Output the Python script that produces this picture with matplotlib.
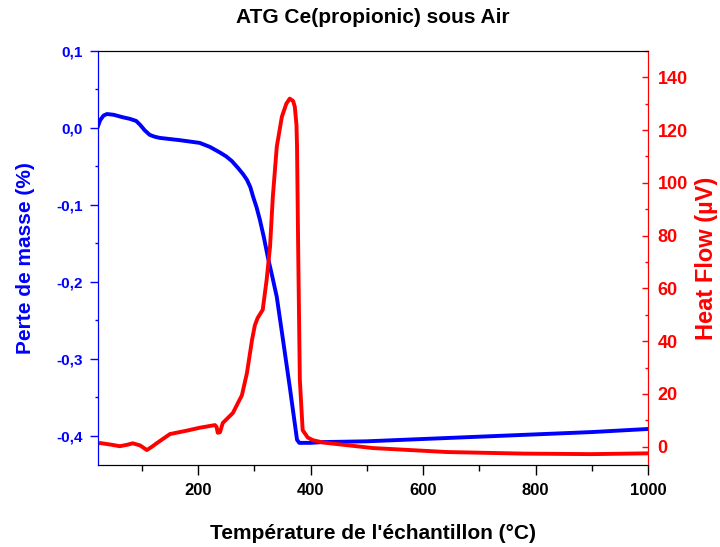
import matplotlib
matplotlib.use('Agg')
from matplotlib import pyplot as plt
from matplotlib.ticker import MultipleLocator, FuncFormatter

plt.rcParams['font.family'] = ['Liberation Sans', 'DejaVu Sans']
plt.rcParams['font.weight'] = 'bold'

# perte de masse (ATG)
temp_atg = [22, 26, 32, 38, 50, 65, 79, 90, 97, 105, 114, 123, 132, 150, 168,
            203, 221, 239, 250, 260, 271, 280, 287, 293, 298, 304, 310, 317,
            324, 332, 340, 351, 363, 376, 380, 400, 422, 500, 600, 700, 800,
            900, 1000]
masse = [0.002, 0.010, 0.016, 0.018, 0.017, 0.014, 0.0117, 0.009, 0.004,
         -0.003, -0.009, -0.0115, -0.013, -0.0145, -0.016, -0.0195, -0.0247,
         -0.032, -0.037, -0.043, -0.052, -0.060, -0.0675, -0.077, -0.0896,
         -0.103, -0.1195, -0.142, -0.1675, -0.193, -0.2195, -0.275, -0.336,
         -0.405, -0.409, -0.409, -0.408, -0.407, -0.404, -0.401, -0.398,
         -0.395, -0.391]

# flux de chaleur
temp_hf = [22, 26, 45, 61, 75, 84, 97, 109, 118, 127, 150, 180, 203, 230, 233,
           235, 239, 244, 262, 271, 278, 287, 296, 301, 306, 315, 322, 328,
           333, 340, 349, 357, 363, 369, 372, 375, 376, 378, 381, 386, 395,
           404, 422, 511, 642, 778, 900, 1000]
flux = [1.2, 1.4, 0.8, 0.2, 0.8, 1.3, 0.5, -1.25, 0.0, 1.4, 4.8, 6.1, 7.2,
        8.2, 7.5, 5.3, 5.5, 9.0, 12.8, 16.6, 19.5, 28.0, 40.5, 46.0, 48.8,
        51.9, 63.3, 75.8, 94.8, 113.7, 125.0, 130.0, 131.9, 131.0, 128.9,
        122.0, 113.7, 75.8, 25.3, 6.3, 3.5, 2.5, 1.6, -0.5, -2.0, -2.6,
        -2.8, -2.5]

fig = plt.figure(figsize=(7.2, 5.47), dpi=100)
ax1 = fig.add_axes([0.136, 0.15, 0.764, 0.757])
ax2 = ax1.twinx()

ax1.plot(temp_atg, masse, color='#0000ff', lw=2.8, zorder=3,
         solid_joinstyle='round')
ax2.plot(temp_hf, flux, color='#ff0000', lw=2.8, solid_joinstyle='round')

ax1.set_xlim(22, 1000)
ax1.set_ylim(-0.4377, 0.1)
ax2.set_ylim(-6.9, 150)

virgule = FuncFormatter(lambda v, p: ('%.1f' % v).replace('.', ','))
ax1.yaxis.set_major_locator(MultipleLocator(0.1))
ax1.yaxis.set_minor_locator(MultipleLocator(0.05))
ax1.yaxis.set_major_formatter(virgule)
ax1.xaxis.set_major_locator(MultipleLocator(200))
ax1.xaxis.set_minor_locator(MultipleLocator(100))
ax2.yaxis.set_major_locator(MultipleLocator(20))
ax2.yaxis.set_minor_locator(MultipleLocator(10))

ax1.tick_params(axis='y', colors='#0000ff', labelsize=11, direction='out',
                length=6, width=1, pad=5)
ax1.tick_params(axis='y', which='minor', colors='#0000ff', direction='out',
                length=2.5, width=1)
ax1.tick_params(axis='x', labelsize=12, direction='out', length=7, width=1,
                pad=6)
ax1.tick_params(axis='x', which='minor', direction='out', length=4, width=1)
ax2.tick_params(axis='y', colors='#ff0000', labelsize=13, direction='in',
                length=4.5, width=1, pad=7)
ax2.tick_params(axis='y', which='minor', colors='#ff0000', direction='in',
                length=2, width=1)

ax2.spines['left'].set_color('#0000ff')
ax2.spines['right'].set_color('#ff0000')
ax1.spines['left'].set_color('#0000ff')
ax1.spines['right'].set_color('#ff0000')

ax1.set_xlabel("Température de l'échantillon (°C)", fontsize=15,
               fontweight='bold')
ax1.xaxis.set_label_coords(0.5, -0.143)
ax1.set_ylabel('Perte de masse (%)', fontsize=15, fontweight='bold',
               color='#0000ff')
ax1.yaxis.set_label_coords(-0.115, 0.5)
ax2.set_ylabel('Heat Flow (\u00b5V)', fontsize=17, fontweight='bold',
               color='#ff0000')
ax2.yaxis.set_label_coords(1.085, 0.5)
ax1.set_title('ATG Ce(propionic) sous Air', fontsize=15, fontweight='bold',
              pad=20)

fig.savefig('out.png', dpi=100)
